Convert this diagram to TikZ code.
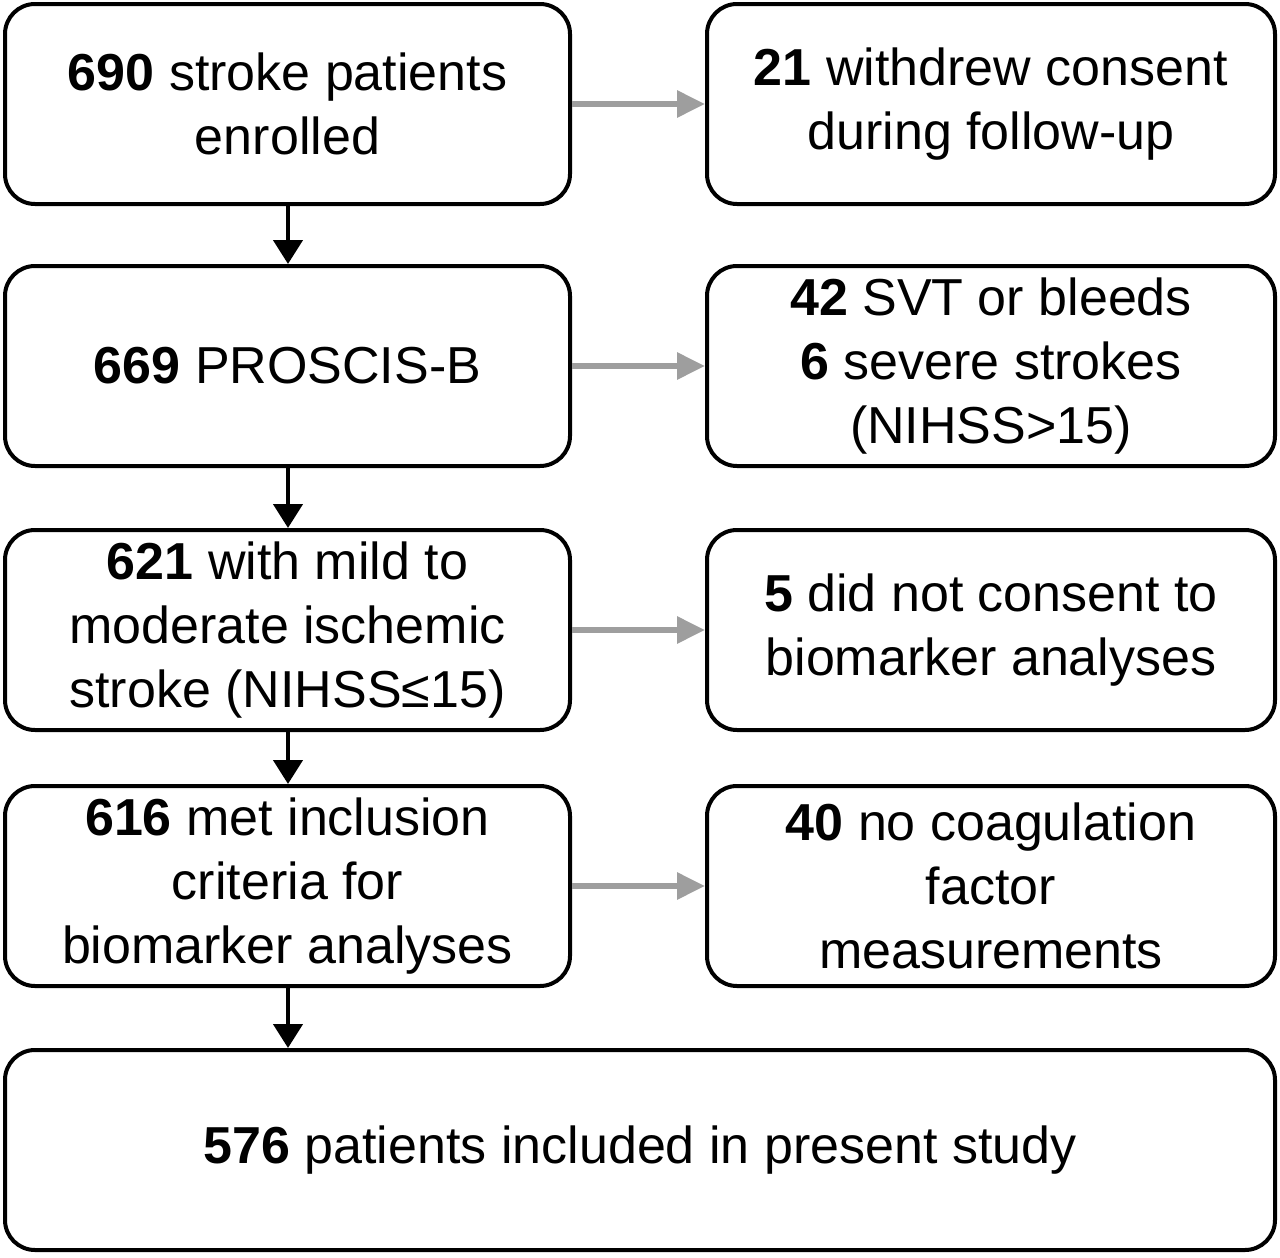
\documentclass[tikz,border=0pt]{standalone}
\usepackage{fontspec}
\setmainfont{Liberation Sans}
\usetikzlibrary{arrows.meta}
\begin{document}
\begin{tikzpicture}[x=1pt,y=-1pt,
  box/.style={draw=black, line width=4pt, rounded corners=30pt, fill=white,
    minimum height=200pt, align=center, inner sep=0pt,
    font=\fontsize{52}{64}\selectfont},
  lbox/.style={box, minimum width=565pt},
  rbox/.style={box, minimum width=568pt},
  down/.style={draw=black, line width=4.5pt, -{Triangle[length=24pt,width=29pt]}},
  side/.style={draw=black!38, line width=6pt, -{Triangle[length=28pt,width=26pt]}}
]
\useasboundingbox (0,0) rectangle (1280,1258);
\node[lbox] (a1) at (287.5,104) {\textbf{690} stroke patients\\enrolled};
\node[rbox] (b1) at (991,104) {\textbf{21} withdrew consent\\during follow-up};
\node[lbox] (a2) at (287.5,366) {\textbf{669} PROSCIS-B};
\node[rbox] (b2) at (991,366) {\textbf{42} SVT or bleeds\\\textbf{6} severe strokes\\(NIHSS>15)};
\node[lbox] (a3) at (287.5,630) {\textbf{621} with mild to\\moderate ischemic\\stroke (NIHSS≤15)};
\node[rbox] (b3) at (991,630) {\textbf{5} did not consent to\\biomarker analyses};
\node[lbox] (a4) at (287.5,886) {\textbf{616} met inclusion\\criteria for\\biomarker analyses};
\node[rbox] (b4) at (991,886) {\textbf{40} no coagulation\\factor\\measurements};
\node[box, minimum width=1270pt] (c) at (640,1150) {\textbf{576} patients included in present study};
\foreach \u/\v in {a1/a2,a2/a3,a3/a4}{
  \draw[down] (\u.south -| 288,0) -- (\v.north -| 288,0);
}
\draw[down] (a4.south -| 288,0) -- (c.north -| 288,0);
\foreach \i in {1,2,3,4}{
  \draw[side] (a\i.east) -- (b\i.west);
}
\end{tikzpicture}
\end{document}
